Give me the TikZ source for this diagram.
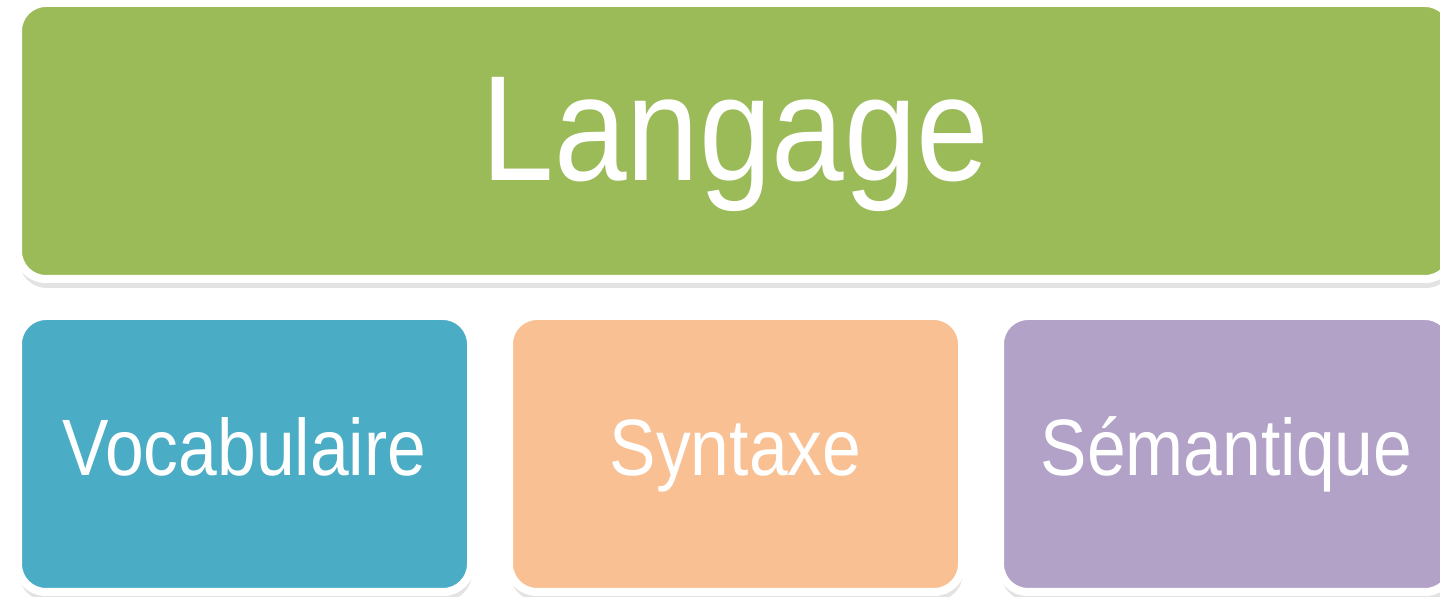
\documentclass[tikz,border=0pt]{standalone}
\usepackage{fontspec}
\setmainfont[FakeStretch=0.87]{Liberation Sans}
\usetikzlibrary{shadows}
\definecolor{vert}{HTML}{9BBB59}
\definecolor{bleu}{HTML}{4BACC6}
\definecolor{orange}{HTML}{F9C193}
\definecolor{violet}{HTML}{B2A2C7}
\begin{document}
\begin{tikzpicture}[x=0.5pt,y=-0.5pt,
	boite/.style={draw=white,line width=4pt,rounded corners=14pt,inner sep=0pt,text=white,
		drop shadow={opacity=0.22,shadow xshift=0.5pt,shadow yshift=-4.5pt}},
	grande/.style={boite,minimum width=717.5pt,minimum height=138pt,
		text height=56pt,text depth=16pt,font=\fontsize{75}{80}\selectfont},
	petite/.style={boite,minimum width=226.5pt,minimum height=138pt,
		text height=30pt,text depth=8.5pt,font=\fontsize{40}{44}\selectfont}]
	\useasboundingbox (0,0) rectangle (1440,597);
	\node[grande,fill=vert] (langage) at (735.5,141) {Langage};
	\foreach \n/\x/\c/\t in {vocab/244.5/bleu/Vocabulaire,syntaxe/735.5/orange/Syntaxe,semantique/1226.5/violet/Sémantique}
		\node[petite,fill=\c] (\n) at (\x,454) {\t};
\end{tikzpicture}
\end{document}
